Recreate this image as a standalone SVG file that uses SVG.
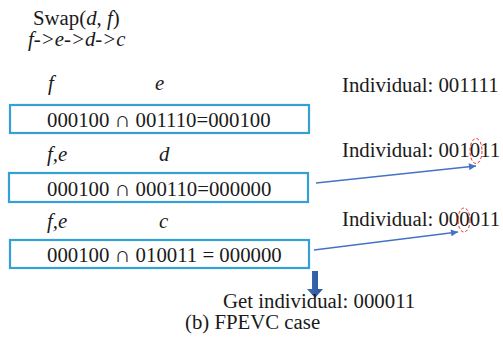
<svg xmlns="http://www.w3.org/2000/svg" width="503" height="352" viewBox="0 0 503 352">
  <style>
    text { font-family: "Liberation Serif", "Times New Roman", serif; font-size: 20.8px; fill: #1a1a1a; }
    .it { font-style: italic; }
    .cap { font-family: "DejaVu Sans", sans-serif; font-size: 22px; font-weight: 200; }
    .box { fill: #ffffff; stroke: #35a0d5; stroke-width: 2.2; }
    .link { stroke: #4472c4; stroke-width: 1.5; fill: none; marker-end: url(#tip); }
    .mark { fill: none; stroke: #ff2020; stroke-width: 1; stroke-dasharray: 3 2; }
  </style>
  <defs>
    <marker id="tip" viewBox="0 0 10 10" refX="10" refY="5" markerWidth="8" markerHeight="7" markerUnits="userSpaceOnUse" orient="auto">
      <path d="M0,0 L10,5 L0,10 z" fill="#4472c4"/>
    </marker>
    <linearGradient id="down" x1="0" y1="0" x2="1" y2="0">
      <stop offset="0" stop-color="#3d6db5"/>
      <stop offset="1" stop-color="#2f5597"/>
    </linearGradient>
  </defs>

  <rect width="503" height="352" fill="#ffffff"/>

  <!-- header -->
  <g id="header">
    <text x="33" y="25">Swap(<tspan class="it">d</tspan>, <tspan class="it">f</tspan>)</text>
    <text x="28" y="46" class="it">f-&gt;e-&gt;d-&gt;c</text>
  </g>

  <!-- step 1 -->
  <g id="step1">
    <text x="48" y="90" class="it">f</text>
    <text x="155" y="90" class="it">e</text>
    <rect class="box" x="10" y="105" width="299" height="28"/>
    <text x="47" y="127">000100 <tspan class="cap">∩</tspan> 001110=000100</text>
  </g>

  <!-- step 2 -->
  <g id="step2">
    <text x="47" y="161" class="it">f,e</text>
    <text x="159" y="161" class="it">d</text>
    <rect class="box" x="9" y="173" width="299" height="29"/>
    <text x="47" y="196">000100 <tspan class="cap">∩</tspan> 000110=000000</text>
  </g>

  <!-- step 3 -->
  <g id="step3">
    <text x="47" y="228" class="it">f,e</text>
    <text x="159" y="228" class="it">c</text>
    <rect class="box" x="10" y="240" width="299" height="28"/>
    <text x="47" y="262">000100 <tspan class="cap">∩</tspan> 010011 = 000000</text>
  </g>

  <!-- individuals -->
  <g id="individual1">
    <text x="342" y="92">Individual: 001111</text>
  </g>
  <g id="individual2">
    <text x="342" y="157">Individual: 001011</text>
    <ellipse class="mark" cx="476" cy="151" rx="6" ry="12.5"/>
  </g>
  <g id="individual3">
    <text x="342" y="226">Individual: 000011</text>
    <ellipse class="mark" cx="464" cy="220" rx="6" ry="12"/>
  </g>

  <!-- result -->
  <g id="result">
    <path d="M312,271 H318 V289 H323 L315,298 L307,289 H312 Z" fill="url(#down)"/>
    <text x="223" y="308">Get individual: 000011</text>
  </g>

  <g id="caption">
    <text x="185" y="329">(b) FPEVC case</text>
  </g>

  <!-- connectors -->
  <g id="connectors">
    <line class="link" x1="316" y1="183" x2="476" y2="166"/>
    <line class="link" x1="314" y1="250" x2="458" y2="232"/>
  </g>
</svg>
